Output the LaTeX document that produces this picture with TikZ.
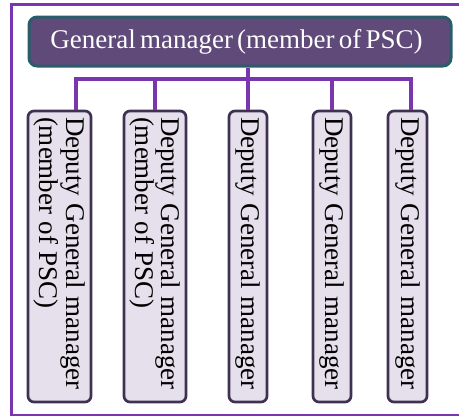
\documentclass[tikz,border=0pt]{standalone}
\usepackage{fontspec}
\setmainfont{Liberation Serif}
\newfontfamily\tightserif{Liberation Serif}[WordSpace=0.62]
\definecolor{framepurple}{HTML}{7A35B0}
\definecolor{gmfill}{HTML}{5F4A7A}
\definecolor{gmborder}{HTML}{2A5D6A}
\definecolor{dfill}{HTML}{E5E0EC}
\definecolor{dborder}{HTML}{3F3151}
\newcommand\gmtextfont{\tightserif\fontsize{27}{26}\selectfont}
\newcommand\dtextfont{\tightserif\fontsize{27}{26.5}\selectfont}
\newcommand\tightsp{\spaceskip=0.27em\relax\xspaceskip=0.27em\relax}
\begin{document}
\begin{tikzpicture}[x=1pt,y=-1pt,
  gmbox/.style={draw=gmborder, fill=gmfill, line width=3pt, rounded corners=8pt,
    text=white, minimum width=422pt, minimum height=49pt, inner sep=0pt,
    font=\gmtextfont},
  dbox/.style={draw=dborder, fill=dfill, line width=2.7pt, rounded corners=6pt,
    rotate=-90, minimum width=291pt, text width=279pt, align=left,
    inner xsep=6pt, inner ysep=0pt, font=\dtextfont},
  conn/.style={draw=framepurple, line width=3.2pt}]
\useasboundingbox (0,0) rectangle (459,416);
\draw[framepurple, line width=3pt] (11,4) rectangle (480,415);
\node[gmbox] (gm) at (240,41.5) {General manager (member of PSC)\hspace*{7pt}};
\node[dbox, minimum height=63pt] (b1) at (59.5,256.5) {\tightsp\mbox{Deputy General manager}\\\mbox{(member of PSC)}};
\node[dbox, minimum height=62pt] (b2) at (155,256.5) {\tightsp\mbox{Deputy General manager}\\\mbox{(member of PSC)}};
\node[dbox, minimum height=38pt] (b3) at (248,256.5) {\tightsp\mbox{Deputy General manager}};
\node[dbox, minimum height=38pt] (b4) at (332,256.5) {\tightsp\mbox{Deputy General manager}};
\node[dbox, minimum height=39pt] (b5) at (407.5,256.5) {\tightsp\mbox{Deputy General manager}};
\coordinate (bus) at (0,79);
\draw[conn] (gm.south -| b3.west) -- (b3.west);
\draw[conn] ([xshift=16.5pt]b1.west) |- ([xshift=3.5pt]b5.west |- bus) -- ([xshift=3.5pt]b5.west);
\draw[conn] (b2.west |- bus) -- (b2.west);
\draw[conn] (b4.west |- bus) -- (b4.west);
\end{tikzpicture}
\end{document}
